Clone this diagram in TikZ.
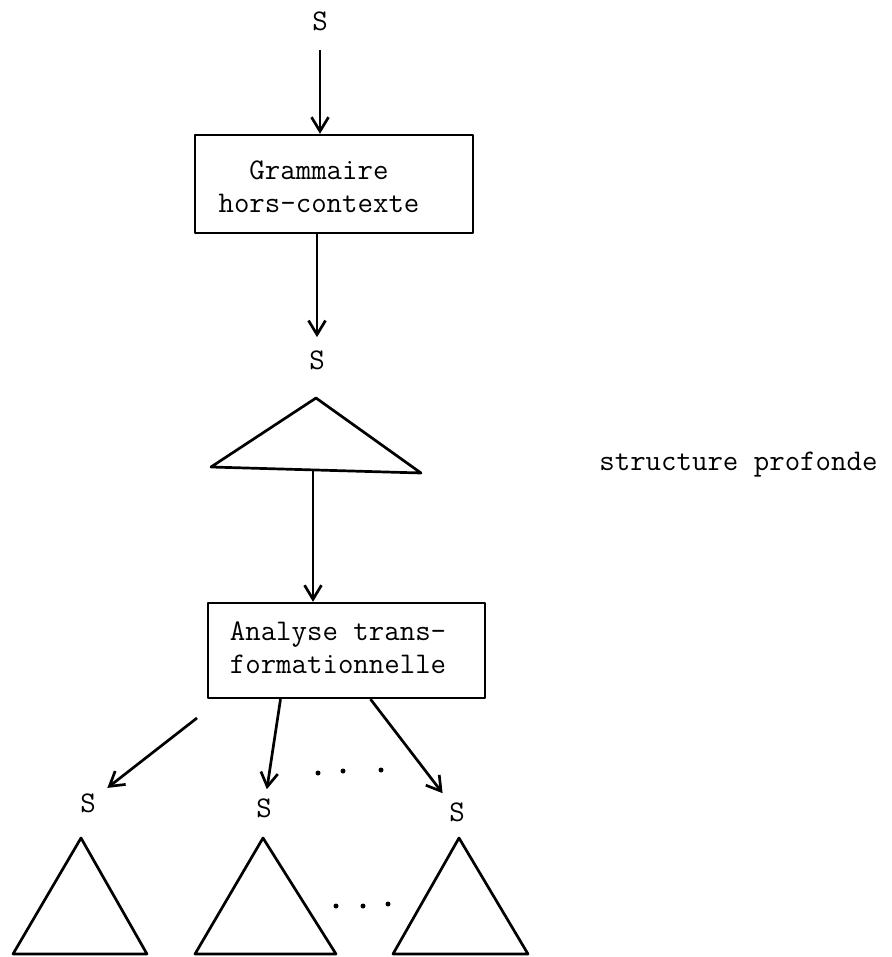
\documentclass[tikz,border=0pt]{standalone}
\usetikzlibrary{arrows.meta}
\begin{document}
\begin{tikzpicture}[x=1pt,y=-1pt,line width=2.7pt,line join=round,
        lbl/.style={font=\fontsize{30}{33}\selectfont\ttfamily,inner sep=0pt,align=center},
        boite/.style={draw,line width=2.4pt,inner sep=0pt},
        fleche/.style={-{Straight Barb[length=14pt,width=17pt]}}]
    \useasboundingbox (0,0) rectangle (891,957);
    \node[lbl] (s0) at (320,21) {S};
    \node[boite,minimum width=278pt,minimum height=98pt] (gram) at (334,184) {};
    \node[lbl] (gramtxt) at (319,187) {Grammaire\\hors-contexte};
    \node[lbl] (s1) at (317,360) {S};
    \coordinate (t0) at (316,398);
    \coordinate (t0g) at (211,467);
    \coordinate (t0d) at (421,473);
    \coordinate (b0) at (313,471);
    \node[boite,minimum width=277pt,minimum height=95pt] (ana) at (346.5,650.5) {};
    \node[lbl] (anatxt) at (338,648) {Analyse trans-\\formationnelle};
    \node[lbl,anchor=base west] (sp) at (598,470) {structure profonde};
    \node[lbl] (s2) at (88,803) {S};
    \node[lbl] (s3) at (264,808) {S};
    \node[lbl] (s4) at (457,812) {S};
    \coordinate (d1) at (197,718);
    \draw[fleche,shorten <=18pt] (s0) -- (s0 |- gram.north);
    \draw[fleche,shorten >=12pt] (gram.south -| s1) -- (s1);
    \draw (t0) -- (t0g) -- (t0d) -- cycle;
    \draw[fleche] (b0) -- (b0 |- ana.north);
    \draw[fleche,shorten >=13pt] (d1) -- (s2);
    \draw[fleche,shorten >=8pt] ([xshift=-66pt]ana.south) -- (s3);
    \draw[fleche,shorten >=10pt] ([xshift=24pt]ana.south) -- (s4);
    \foreach \x/\y in {318/773,343/771,381/770,336/906,363/906,388/904}
        \fill (\x,\y) circle (2.5pt);
    \foreach \a/\g/\d in {81/13/147,263/195/336,459/393/528}
        \draw (\a,838) -- (\g,954) -- (\d,954) -- cycle;
\end{tikzpicture}
\end{document}
